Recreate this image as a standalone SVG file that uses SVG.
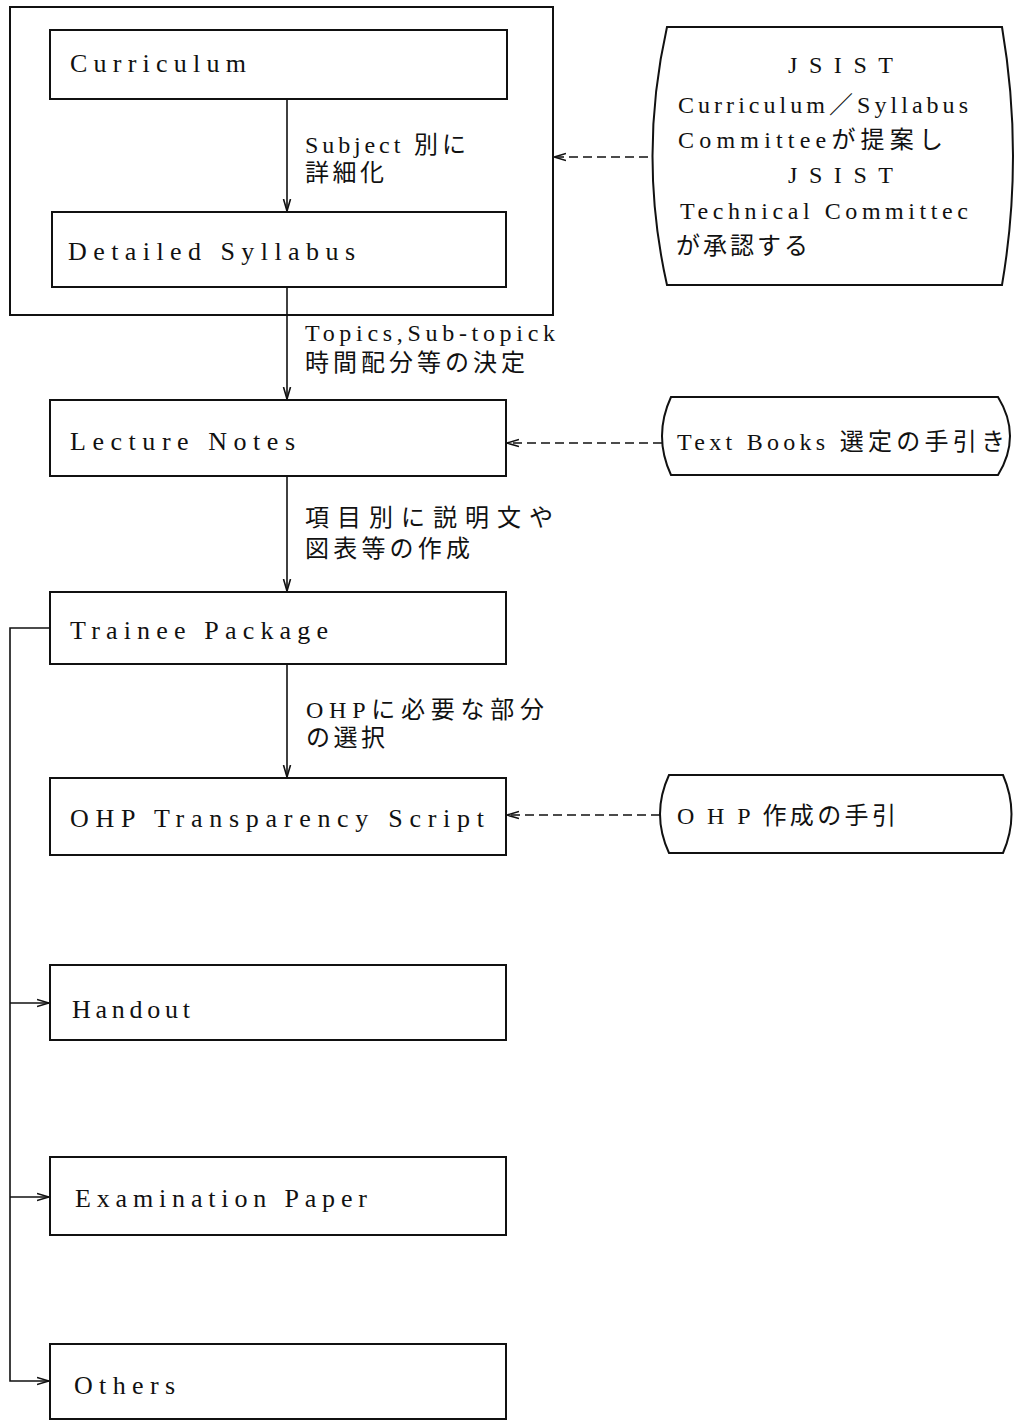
<svg xmlns="http://www.w3.org/2000/svg" width="1018" height="1421" viewBox="0 0 1018 1421">
<style>
.box{fill:none;stroke:#111;stroke-width:2}
.lbl{font-family:"Liberation Serif","Noto Sans CJK JP",serif;font-size:26px;fill:#111}
.jp{font-family:"Liberation Serif","Noto Sans CJK JP",serif;font-size:24px;fill:#111}
.con{fill:none;stroke:#111;stroke-width:1.6}
.dash{stroke-dasharray:9 5}
</style>
<defs>
<marker id="arr" viewBox="0 0 12 10" refX="12" refY="5" markerWidth="12" markerHeight="10" orient="auto" markerUnits="userSpaceOnUse">
<path d="M0,1.5 L12,5 L0,8.5" fill="none" stroke="#111" stroke-width="1.6"/>
</marker>
</defs>
<rect width="1018" height="1421" fill="#fff"/>

<g id="container">
<rect class="box" x="10" y="7" width="543" height="308"/>
</g>

<g id="curriculum">
<rect class="box" x="50" y="30" width="457" height="69"/>
<text class="lbl" x="70" y="72" textLength="176" lengthAdjust="spacing">Curriculum</text>
</g>

<g id="syllabus">
<rect class="box" x="52" y="212" width="454" height="75"/>
<text class="lbl" x="68" y="260" textLength="287" lengthAdjust="spacing">Detailed Syllabus</text>
</g>

<g id="jsist">
<path class="box" d="M667,27 L1002,27 Q1024,156 1002,285 L667,285 Q638,156 667,27 Z"/>
<text class="jp" x="788" y="73" textLength="105" lengthAdjust="spacing">JSIST</text>
<text class="jp" x="678" y="113" textLength="290" lengthAdjust="spacing">Curriculum／Syllabus</text>
<text class="jp" x="678" y="148" textLength="265" lengthAdjust="spacing">Committeeが提案し</text>
<text class="jp" x="788" y="183" textLength="105" lengthAdjust="spacing">JSIST</text>
<text class="jp" x="680" y="219" textLength="288" lengthAdjust="spacing">Technical Committec</text>
<text class="jp" x="676" y="254" textLength="132" lengthAdjust="spacing">が承認する</text>
</g>

<g id="lecture">
<rect class="box" x="50" y="400" width="456" height="76"/>
<text class="lbl" x="70" y="450" textLength="225" lengthAdjust="spacing">Lecture Notes</text>
</g>

<g id="textbooks">
<path class="box" d="M671,397 L998,397 Q1022,436 998,475 L671,475 Q653,436 671,397 Z"/>
<text class="jp" x="677" y="450" textLength="328" lengthAdjust="spacing">Text Books 選定の手引き</text>
</g>

<g id="trainee">
<rect class="box" x="50" y="592" width="456" height="72"/>
<text class="lbl" x="70" y="639" textLength="258" lengthAdjust="spacing">Trainee Package</text>
</g>

<g id="ohp">
<rect class="box" x="50" y="778" width="456" height="77"/>
<text class="lbl" x="70" y="827" textLength="414" lengthAdjust="spacing">OHP Transparency Script</text>
</g>

<g id="ohpguide">
<path class="box" d="M669,775 L1003,775 Q1020,814 1003,853 L669,853 Q651,814 669,775 Z"/>
<text class="jp" x="677" y="824" textLength="219" lengthAdjust="spacing">O H P 作成の手引</text>
</g>

<g id="handout">
<rect class="box" x="50" y="965" width="456" height="75"/>
<text class="lbl" x="72" y="1018" textLength="118" lengthAdjust="spacing">Handout</text>
</g>

<g id="exam">
<rect class="box" x="50" y="1157" width="456" height="78"/>
<text class="lbl" x="75" y="1207" textLength="292" lengthAdjust="spacing">Examination Paper</text>
</g>

<g id="others">
<rect class="box" x="50" y="1344" width="456" height="75"/>
<text class="lbl" x="74" y="1394" textLength="101" lengthAdjust="spacing">Others</text>
</g>

<g id="connectors">
<path class="con" d="M287,99 V211" marker-end="url(#arr)"/>
<path class="con" d="M287,287 V399" marker-end="url(#arr)"/>
<path class="con" d="M287,476 V591" marker-end="url(#arr)"/>
<path class="con" d="M287,664 V777" marker-end="url(#arr)"/>
<path class="con dash" d="M648,157 H554" marker-end="url(#arr)"/>
<path class="con dash" d="M662,443 H507" marker-end="url(#arr)"/>
<path class="con dash" d="M660,815 H507" marker-end="url(#arr)"/>
<path class="con" d="M50,628 H10 V1381 H49" marker-end="url(#arr)"/>
<path class="con" d="M10,1003 H49" marker-end="url(#arr)"/>
<path class="con" d="M10,1197 H49" marker-end="url(#arr)"/>
</g>

<g id="labels">
<text class="jp" x="305" y="153" textLength="161" lengthAdjust="spacing">Subject 別に</text>
<text class="jp" x="305" y="181" textLength="79" lengthAdjust="spacing">詳細化</text>
<text class="jp" x="305" y="341" textLength="250" lengthAdjust="spacing">Topics,Sub-topick</text>
<text class="jp" x="305" y="371" textLength="220" lengthAdjust="spacing">時間配分等の決定</text>
<text class="jp" x="305" y="526" textLength="248" lengthAdjust="spacing">項目別に説明文や</text>
<text class="jp" x="305" y="557" textLength="165" lengthAdjust="spacing">図表等の作成</text>
<text class="jp" x="306" y="718" textLength="238" lengthAdjust="spacing">OHPに必要な部分</text>
<text class="jp" x="306" y="746" textLength="79" lengthAdjust="spacing">の選択</text>
</g>
</svg>
